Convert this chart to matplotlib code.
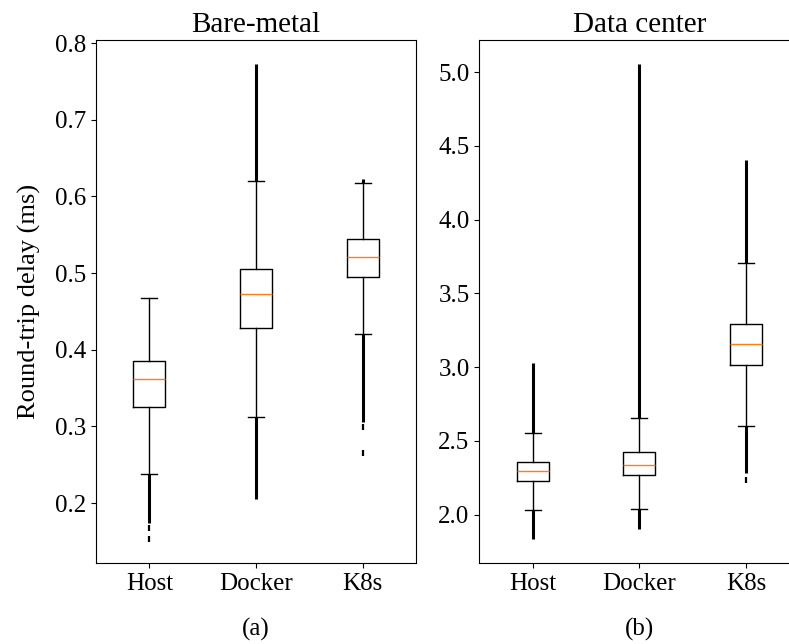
"""Round-trip delay boxplots: bare-metal vs data center."""

import matplotlib
matplotlib.use("Agg")
import matplotlib.pyplot as plt

plt.rcParams["font.family"] = ["Liberation Serif", "DejaVu Serif"]

labels = ["Host", "Docker", "K8s"]

# Bare-metal (ms)
bm_q1 = [0.326, 0.428, 0.495]
bm_med = [0.362, 0.473, 0.521]
bm_q3 = [0.386, 0.505, 0.5445]
bm_whislo = [0.238, 0.313, 0.421]
bm_whishi = [0.467, 0.620, 0.618]
# dense outlier runs (lo, hi) and isolated outliers
bm_runs = [[(0.174, 0.238)],
           [(0.205, 0.313), (0.620, 0.773)],
           [(0.306, 0.421), (0.618, 0.623)]]
bm_fliers = [[0.168, 0.153], [], [0.2996, 0.266]]

# Data center (ms)
dc_q1 = [2.229, 2.271, 3.013]
dc_med = [2.294, 2.338, 3.154]
dc_q3 = [2.358, 2.424, 3.29]
dc_whislo = [2.034, 2.040, 2.600]
dc_whishi = [2.556, 2.657, 3.708]
dc_runs = [[(1.834, 2.034), (2.556, 3.03)],
           [(1.906, 2.040), (2.657, 5.056)],
           [(2.28, 2.60), (3.708, 4.406)]]
dc_fliers = [[], [], [2.235]]


def draw_panel(ax, q1, med, q3, lo, hi, runs, fliers, title, sub):
    stats = []
    for i, lab in enumerate(labels):
        stats.append({
            "label": lab, "q1": q1[i], "med": med[i], "q3": q3[i],
            "whislo": lo[i], "whishi": hi[i], "fliers": fliers[i],
        })
    ax.bxp(stats, positions=[1, 2, 3],
           flierprops=dict(marker="|", markersize=4, markeredgewidth=1.6,
                           markeredgecolor="black"))
    for i, rr in enumerate(runs):
        for a, b in rr:
            ax.vlines(i + 1, a, b, colors="black", linewidth=2.2)
    ax.set_title(title, fontsize=21)
    ax.set_xlabel(sub, fontsize=18, labelpad=17)
    ax.tick_params(labelsize=18)


fig = plt.figure(figsize=(7.89, 6.44), dpi=100)
ax1 = fig.add_axes([0.1217, 0.1258, 0.4056, 0.8121])
ax2 = fig.add_axes([0.6075, 0.1258, 0.4056, 0.8121])

draw_panel(ax1, bm_q1, bm_med, bm_q3, bm_whislo, bm_whishi,
           bm_runs, bm_fliers, "Bare-metal", "(a)")
draw_panel(ax2, dc_q1, dc_med, dc_q3, dc_whislo, dc_whishi,
           dc_runs, dc_fliers, "Data center", "(b)")
ax1.set_ylabel("Round-trip delay (ms)", fontsize=19, labelpad=10)

fig.savefig("out.png", dpi=100)
